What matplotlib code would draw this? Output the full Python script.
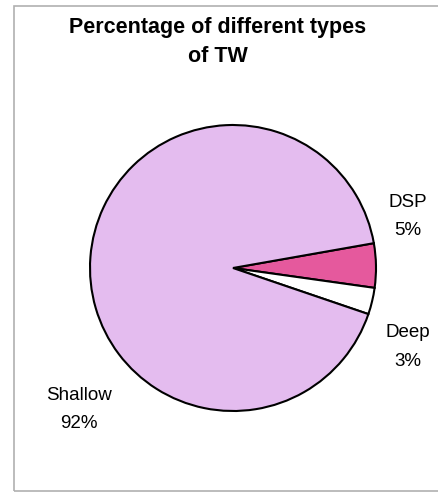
import matplotlib.pyplot as plt
from matplotlib.patches import Rectangle

plt.rcParams['font.family'] = ['Liberation Sans', 'DejaVu Sans']

types = ['DSP', 'Deep', 'Shallow']
shares = [5, 3, 92]
colors = ['#e5599d', '#ffffff', '#e4bcef']

W, H = 438, 493
fig = plt.figure(figsize=(W / 100, H / 100), dpi=100)

# pie sits in a square box, centre (233, 268) px, radius 143 px
cx, cy, r = 233, 268, 143
ax = fig.add_axes([(cx - r) / W, (H - cy - r) / H, 2 * r / W, 2 * r / H])
ax.pie(shares, colors=colors, startangle=10, counterclock=False,
       wedgeprops=dict(edgecolor='black', linewidth=1.5))
ax.set_xlim(-1, 1)
ax.set_ylim(-1, 1)

# label positions in pie units
label_pos = {'DSP': (1.22, 0.36), 'Deep': (1.22, -0.55), 'Shallow': (-1.08, -0.99)}
for name, val in zip(types, shares):
    x, y = label_pos[name]
    ax.text(x, y, '{}\n{}%'.format(name, val), ha='center', va='center',
            fontsize=13.5, linespacing=1.9, clip_on=False)

fig.text(218 / W, 1 - 42 / H, 'Percentage of different types\nof TW',
         ha='center', va='center', fontsize=15.5, fontweight='bold',
         linespacing=1.55)

# chart frame
fig.patches.append(Rectangle((14 / W, 2 / H), 1.2, 1 - 8 / H,
                             transform=fig.transFigure, fill=False,
                             edgecolor='#b0b0b0', linewidth=1.2))

fig.savefig('out.png', dpi=100)
